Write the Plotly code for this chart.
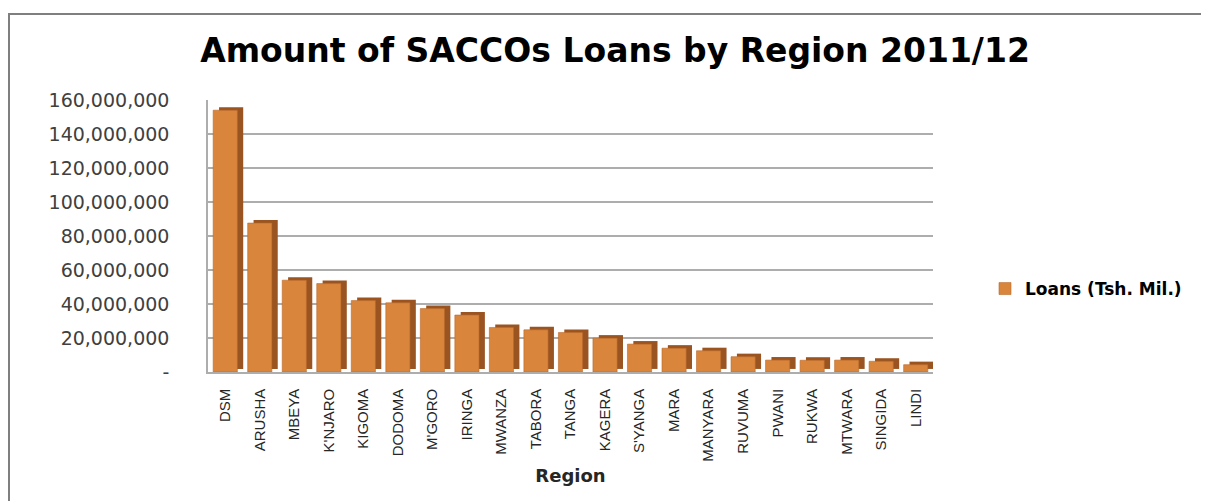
import plotly.graph_objects as go

# ---- data ----
regions = ["DSM", "ARUSHA", "MBEYA", "K'NJARO", "KIGOMA", "DODOMA", "M'GORO",
           "IRINGA", "MWANZA", "TABORA", "TANGA", "KAGERA", "S'YANGA", "MARA",
           "MANYARA", "RUVUMA", "PWANI", "RUKWA", "MTWARA", "SINGIDA", "LINDI"]
loans = [154000000, 87600000, 54000000, 52000000, 42000000, 40700000, 37300000,
         33500000, 26200000, 24800000, 23200000, 19900000, 16400000, 14000000,
         12500000, 9000000, 7000000, 6900000, 7000000, 6300000, 4300000]
tick_vals = [0, 20000000, 40000000, 60000000, 80000000, 100000000,
             120000000, 140000000, 160000000]
tick_text = ["-", "20,000,000", "40,000,000", "60,000,000", "80,000,000",
             "100,000,000", "120,000,000", "140,000,000", "160,000,000"]

# page body has an 8px margin, so the figure is drawn 8px in from the corner
OFF = 8
W, H = 1209 - OFF, 501 - OFF
# target pixel positions (in window coordinates)
PL, PR, PT, PB = 208, 933, 100, 372
ML, MR, MT, MB = PL - OFF, W - (PR - OFF), PT - OFF, H - (PB - OFF)
PW, PH = PR - PL, PB - PT


def px_x(p):
    return (p - PL) / PW


def px_y(p):
    return (PB - p) / PH


FRONT = "#DA853C"
SIDE = "#9A5421"
depth_lift = 1800000  # 3-D look: back face drawn slightly raised

fig = go.Figure()
# darker "side/top" face, shifted right and up for a pseudo 3-D effect
fig.add_trace(go.Bar(
    x=regions, y=loans, base=depth_lift, width=0.70, offset=-0.18,
    marker=dict(color=SIDE, line=dict(width=0)),
    showlegend=False, hoverinfo="skip"))
# front face
fig.add_trace(go.Bar(
    x=regions, y=loans, width=0.70, offset=-0.35,
    name="Loans (Tsh. Mil.)",
    marker=dict(color=FRONT, line=dict(width=0.6, color="#B8692C"))))

fig.update_layout(
    width=W, height=H,
    margin=dict(l=ML, r=MR, t=MT, b=MB),
    paper_bgcolor="white", plot_bgcolor="white",
    barmode="overlay",
    title=dict(text="<b>Amount of SACCOs Loans by Region 2011/12</b>",
               x=(615 - OFF) / W, xanchor="center",
               y=1 - (50 - OFF) / H, yanchor="middle",
               font=dict(family="DejaVu Sans", size=33, color="#000000")),
    legend=dict(x=px_x(985), xanchor="left", y=px_y(289), yanchor="middle",
                font=dict(family="DejaVu Sans", size=17, color="#000000",
                          weight="bold"),
                bgcolor="rgba(0,0,0,0)"),
    showlegend=True,
    font=dict(family="DejaVu Sans"),
)

fig.update_yaxes(
    range=[0, 160000000], tickvals=tick_vals, ticktext=tick_text,
    tickfont=dict(family="DejaVu Sans", size=19, color="#404040"),
    showgrid=True, gridcolor="#ADADAD", gridwidth=1.5,
    showline=True, linecolor="#ADADAD", linewidth=1.5,
    ticks="", ticklabelstandoff=33, zeroline=False, fixedrange=True,
)
fig.update_xaxes(
    range=[-0.5, len(regions) - 0.5],
    tickangle=-90,
    tickfont=dict(family="Liberation Sans Narrow, Liberation Sans", size=15,
                  color="#262626"),
    showline=True, linecolor="#ADADAD", linewidth=1.5, ticks="",
    ticklabelstandoff=9,
    title=dict(text="<b>Region</b>", standoff=9,
               font=dict(family="DejaVu Sans", size=18, color="#262626")),
)

# outer chart frame (left and top edges visible in the reference)
fig.add_shape(type="rect", xref="paper", yref="paper",
              x0=px_x(9), x1=px_x(1240), y0=px_y(540), y1=px_y(14),
              line=dict(color="#7F7F7F", width=2), fillcolor="rgba(0,0,0,0)",
              layer="below")

fig.write_html("out.html")
